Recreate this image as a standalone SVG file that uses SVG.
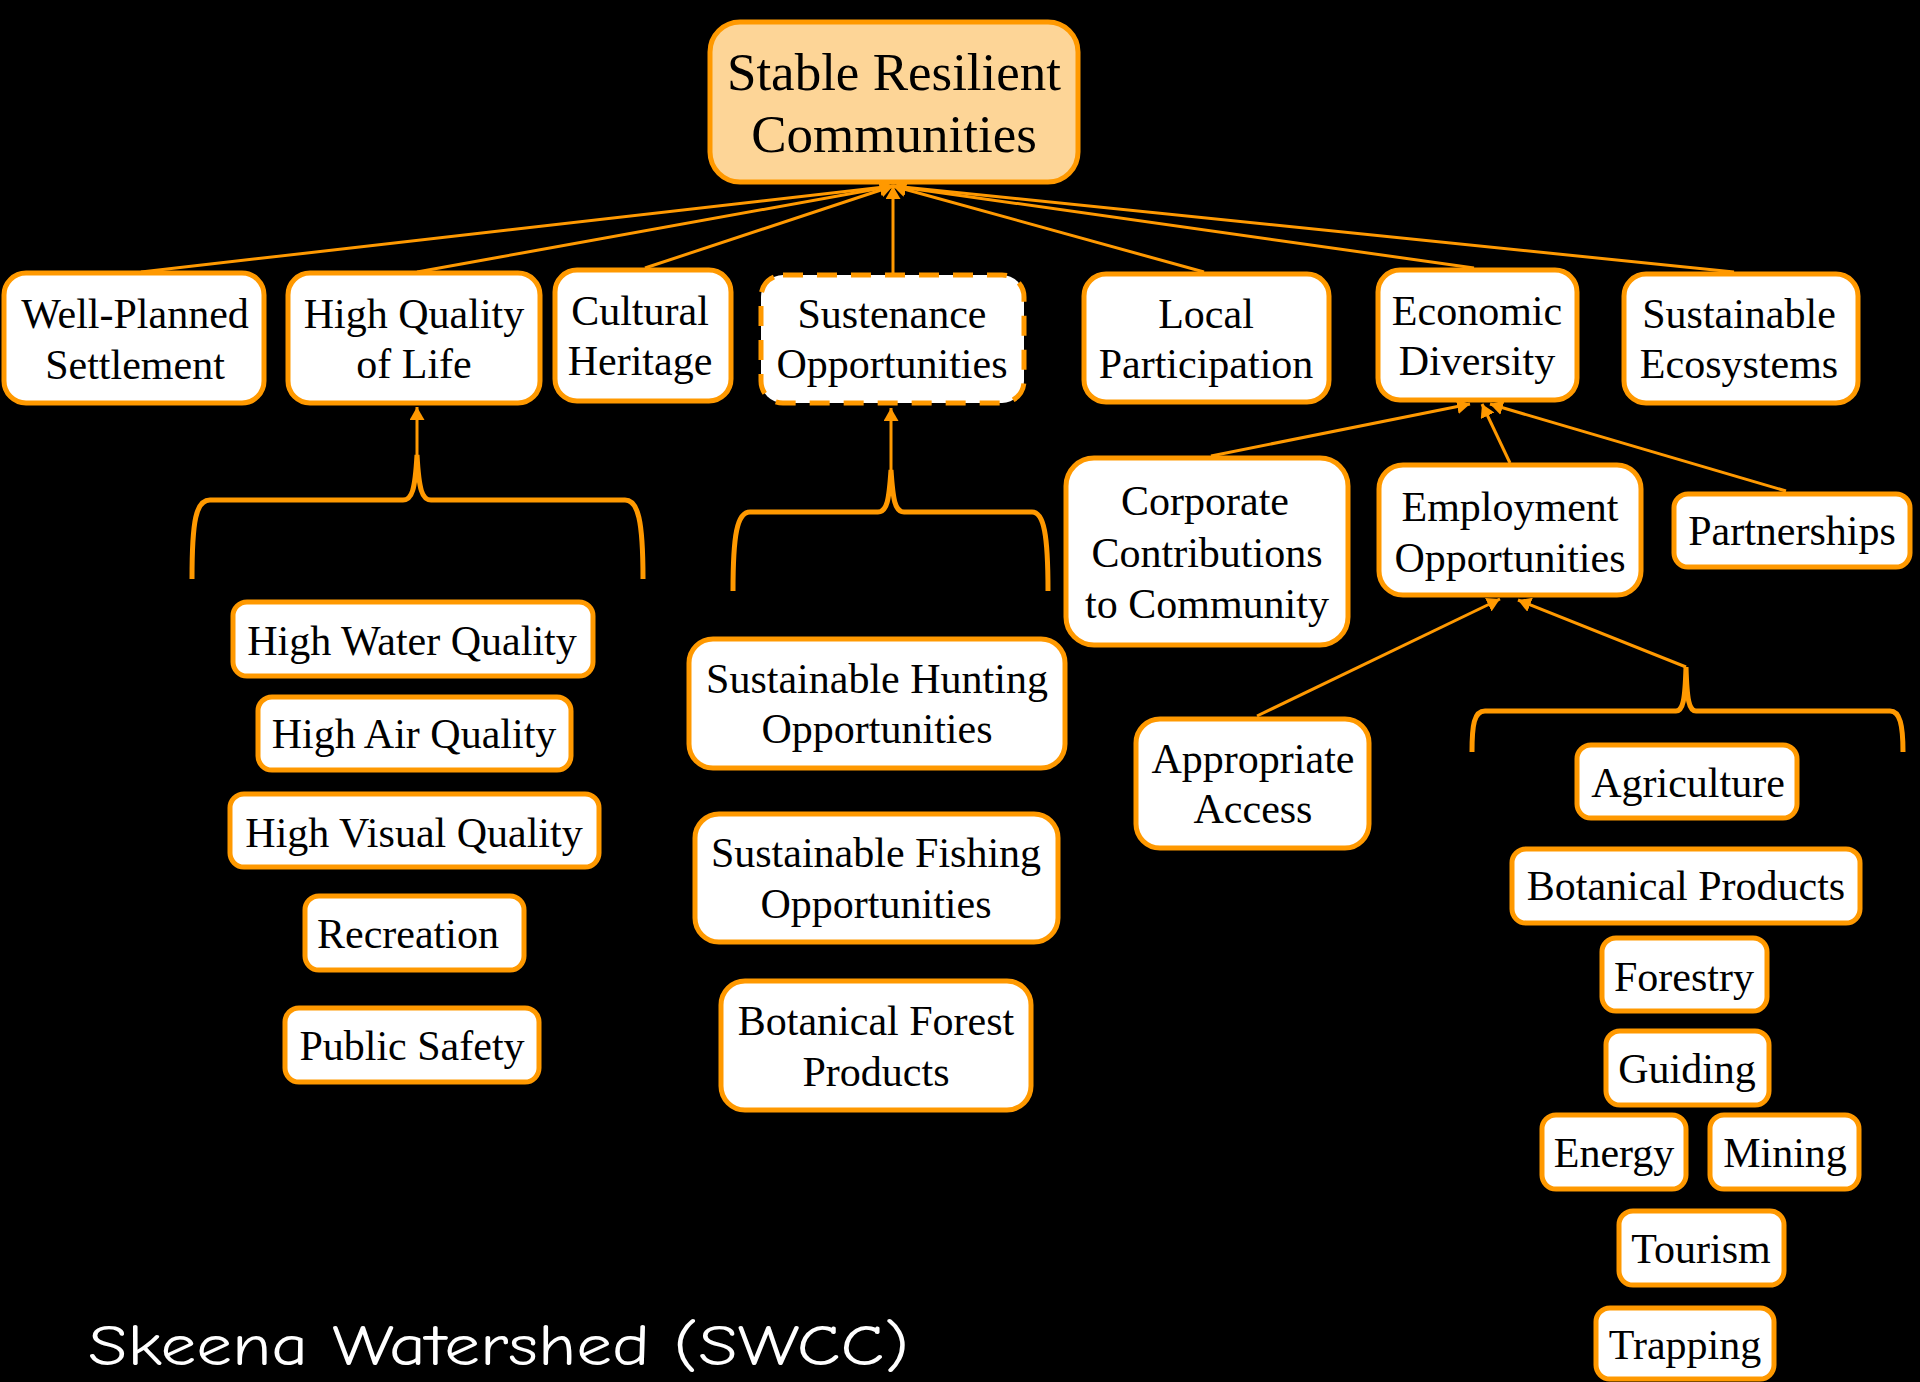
<svg xmlns="http://www.w3.org/2000/svg" width="1920" height="1382" viewBox="0 0 1920 1382">
<style>
.box{fill:#FFFFFF;stroke:#FF9900;stroke-width:5}
.dash{stroke-dasharray:20 14}
.root{fill:#FDD597;stroke:#FF9900;stroke-width:5}
.t{font-family:"Liberation Serif","Times New Roman",serif;font-size:42px;fill:#000;text-anchor:middle}
.rt{font-family:"Liberation Serif","Times New Roman",serif;font-size:53px;fill:#000;text-anchor:middle}
.ln{stroke:#FF9900;stroke-width:3;fill:none}
.br{stroke:#FF9900;stroke-width:5;fill:none}
.title{font-family:"Comic Sans MS","Comic Neue","DejaVu Sans",sans-serif;font-size:58px;fill:#FFFFFF}
</style>
<defs>
<marker id="arr" viewBox="0 0 13 15" refX="13" refY="7.5" markerWidth="13" markerHeight="15" markerUnits="userSpaceOnUse" orient="auto">
<path d="M0,0 L13,7.5 L0,15 z" fill="#FF9900"/>
</marker>
</defs>
<rect x="0" y="0" width="1920" height="1382" fill="#000000"/>

<g id="connectors">
<line class="ln" x1="141" y1="272" x2="893" y2="186" marker-end="url(#arr)"/>
<line class="ln" x1="417" y1="272" x2="893" y2="186" marker-end="url(#arr)"/>
<line class="ln" x1="645" y1="268" x2="893" y2="186" marker-end="url(#arr)"/>
<line class="ln" x1="893" y1="273" x2="893" y2="186" marker-end="url(#arr)"/>
<line class="ln" x1="1204" y1="272" x2="893" y2="186" marker-end="url(#arr)"/>
<line class="ln" x1="1474" y1="268" x2="893" y2="186" marker-end="url(#arr)"/>
<line class="ln" x1="1734" y1="272" x2="893" y2="186" marker-end="url(#arr)"/>

<path class="br" d="M192,579 C192,520 196,500 210,500 L403,500 C412,500 415,490 417,455 C419,490 422,500 431,500 L625,500 C638,500 643,520 643,579"/>
<line class="ln" x1="417" y1="458" x2="417" y2="407" marker-end="url(#arr)"/>

<path class="br" d="M733,591 C733,535 737,512 750,512 L878,512 C887,512 889,500 891,470 C893,500 895,512 904,512 L1032,512 C1044,512 1048,535 1048,591"/>
<line class="ln" x1="891" y1="473" x2="891" y2="408" marker-end="url(#arr)"/>

<line class="ln" x1="1211" y1="456" x2="1470" y2="404" marker-end="url(#arr)"/>
<line class="ln" x1="1510" y1="463" x2="1482" y2="404" marker-end="url(#arr)"/>
<line class="ln" x1="1786" y1="491" x2="1490" y2="404" marker-end="url(#arr)"/>

<line class="ln" x1="1257" y1="716" x2="1500" y2="599" marker-end="url(#arr)"/>
<line class="ln" x1="1686" y1="667" x2="1518" y2="600" marker-end="url(#arr)"/>
<path class="br" d="M1472,752 C1472,725 1474,711 1485,711 L1676,711 C1683,711 1685,700 1686,667 C1687,700 1689,711 1696,711 L1890,711 C1900,711 1903,725 1903,752"/>
</g>

<g id="root">
<rect class="root" x="710" y="22" width="368" height="160" rx="30"/>
<text class="rt" x="894" y="90">Stable Resilient</text>
<text class="rt" x="894" y="152">Communities</text>
</g>

<g id="well-planned">
<rect class="box" x="4" y="273" width="260" height="130" rx="22"/>
<text class="t" x="135" y="328">Well-Planned</text>
<text class="t" x="135" y="379">Settlement</text>
</g>
<g id="high-quality">
<rect class="box" x="288" y="273" width="252" height="130" rx="22"/>
<text class="t" x="414" y="328">High Quality</text>
<text class="t" x="414" y="378">of Life</text>
</g>
<g id="cultural">
<rect class="box" x="555" y="270" width="176" height="131" rx="22"/>
<text class="t" x="640" y="325">Cultural</text>
<text class="t" x="640" y="375">Heritage</text>
</g>
<g id="sustenance">
<rect class="box dash" x="761" y="275" width="263" height="128" rx="22"/>
<text class="t" x="892" y="328">Sustenance</text>
<text class="t" x="892" y="378">Opportunities</text>
</g>
<g id="local">
<rect class="box" x="1084" y="274" width="245" height="128" rx="22"/>
<text class="t" x="1206" y="328">Local</text>
<text class="t" x="1206" y="378">Participation</text>
</g>
<g id="economic">
<rect class="box" x="1378" y="270" width="199" height="130" rx="22"/>
<text class="t" x="1477" y="325">Economic</text>
<text class="t" x="1477" y="375">Diversity</text>
</g>
<g id="ecosystems">
<rect class="box" x="1624" y="274" width="234" height="129" rx="22"/>
<text class="t" x="1739" y="328">Sustainable</text>
<text class="t" x="1739" y="378">Ecosystems</text>
</g>

<g id="water">
<rect class="box" x="233" y="602" width="360" height="74" rx="14"/>
<text class="t" x="412" y="655">High Water Quality</text>
</g>
<g id="air">
<rect class="box" x="258" y="697" width="313" height="73" rx="14"/>
<text class="t" x="414" y="748">High Air Quality</text>
</g>
<g id="visual">
<rect class="box" x="230" y="794" width="369" height="73" rx="14"/>
<text class="t" x="414" y="847">High Visual Quality</text>
</g>
<g id="recreation">
<rect class="box" x="305" y="896" width="219" height="74" rx="14"/>
<text class="t" x="408" y="948">Recreation</text>
</g>
<g id="safety">
<rect class="box" x="285" y="1008" width="254" height="74" rx="14"/>
<text class="t" x="412" y="1060">Public Safety</text>
</g>

<g id="hunting">
<rect class="box" x="689" y="639" width="376" height="129" rx="24"/>
<text class="t" x="877" y="693">Sustainable Hunting</text>
<text class="t" x="877" y="743">Opportunities</text>
</g>
<g id="fishing">
<rect class="box" x="695" y="814" width="363" height="128" rx="24"/>
<text class="t" x="876" y="867">Sustainable Fishing</text>
<text class="t" x="876" y="918">Opportunities</text>
</g>
<g id="botanical-forest">
<rect class="box" x="721" y="981" width="310" height="129" rx="24"/>
<text class="t" x="876" y="1035">Botanical Forest</text>
<text class="t" x="876" y="1086">Products</text>
</g>

<g id="corporate">
<rect class="box" x="1066" y="458" width="282" height="187" rx="28"/>
<text class="t" x="1205" y="515">Corporate</text>
<text class="t" x="1207" y="567">Contributions</text>
<text class="t" x="1207" y="618">to Community</text>
</g>
<g id="employment">
<rect class="box" x="1379" y="465" width="262" height="130" rx="24"/>
<text class="t" x="1510" y="521">Employment</text>
<text class="t" x="1510" y="572">Opportunities</text>
</g>
<g id="partnerships">
<rect class="box" x="1674" y="494" width="236" height="73" rx="14"/>
<text class="t" x="1792" y="545">Partnerships</text>
</g>
<g id="access">
<rect class="box" x="1136" y="719" width="233" height="129" rx="24"/>
<text class="t" x="1253" y="773">Appropriate</text>
<text class="t" x="1253" y="823">Access</text>
</g>
<g id="agriculture">
<rect class="box" x="1577" y="745" width="220" height="73" rx="14"/>
<text class="t" x="1688" y="797">Agriculture</text>
</g>
<g id="botanical-products">
<rect class="box" x="1512" y="849" width="348" height="74" rx="14"/>
<text class="t" x="1686" y="900">Botanical Products</text>
</g>
<g id="forestry">
<rect class="box" x="1602" y="938" width="165" height="73" rx="14"/>
<text class="t" x="1684" y="991">Forestry</text>
</g>
<g id="guiding">
<rect class="box" x="1606" y="1031" width="163" height="74" rx="14"/>
<text class="t" x="1687" y="1083">Guiding</text>
</g>
<g id="energy">
<rect class="box" x="1542" y="1115" width="144" height="74" rx="14"/>
<text class="t" x="1614" y="1167">Energy</text>
</g>
<g id="mining">
<rect class="box" x="1710" y="1115" width="149" height="74" rx="14"/>
<text class="t" x="1785" y="1167">Mining</text>
</g>
<g id="tourism">
<rect class="box" x="1619" y="1211" width="165" height="74" rx="14"/>
<text class="t" x="1701" y="1263">Tourism</text>
</g>
<g id="trapping">
<rect class="box" x="1596" y="1308" width="178" height="71" rx="14"/>
<text class="t" x="1685" y="1359">Trapping</text>
</g>

<text class="title" x="88" y="1365" textLength="821" lengthAdjust="spacingAndGlyphs">Skeena Watershed (SWCC)</text>
</svg>
